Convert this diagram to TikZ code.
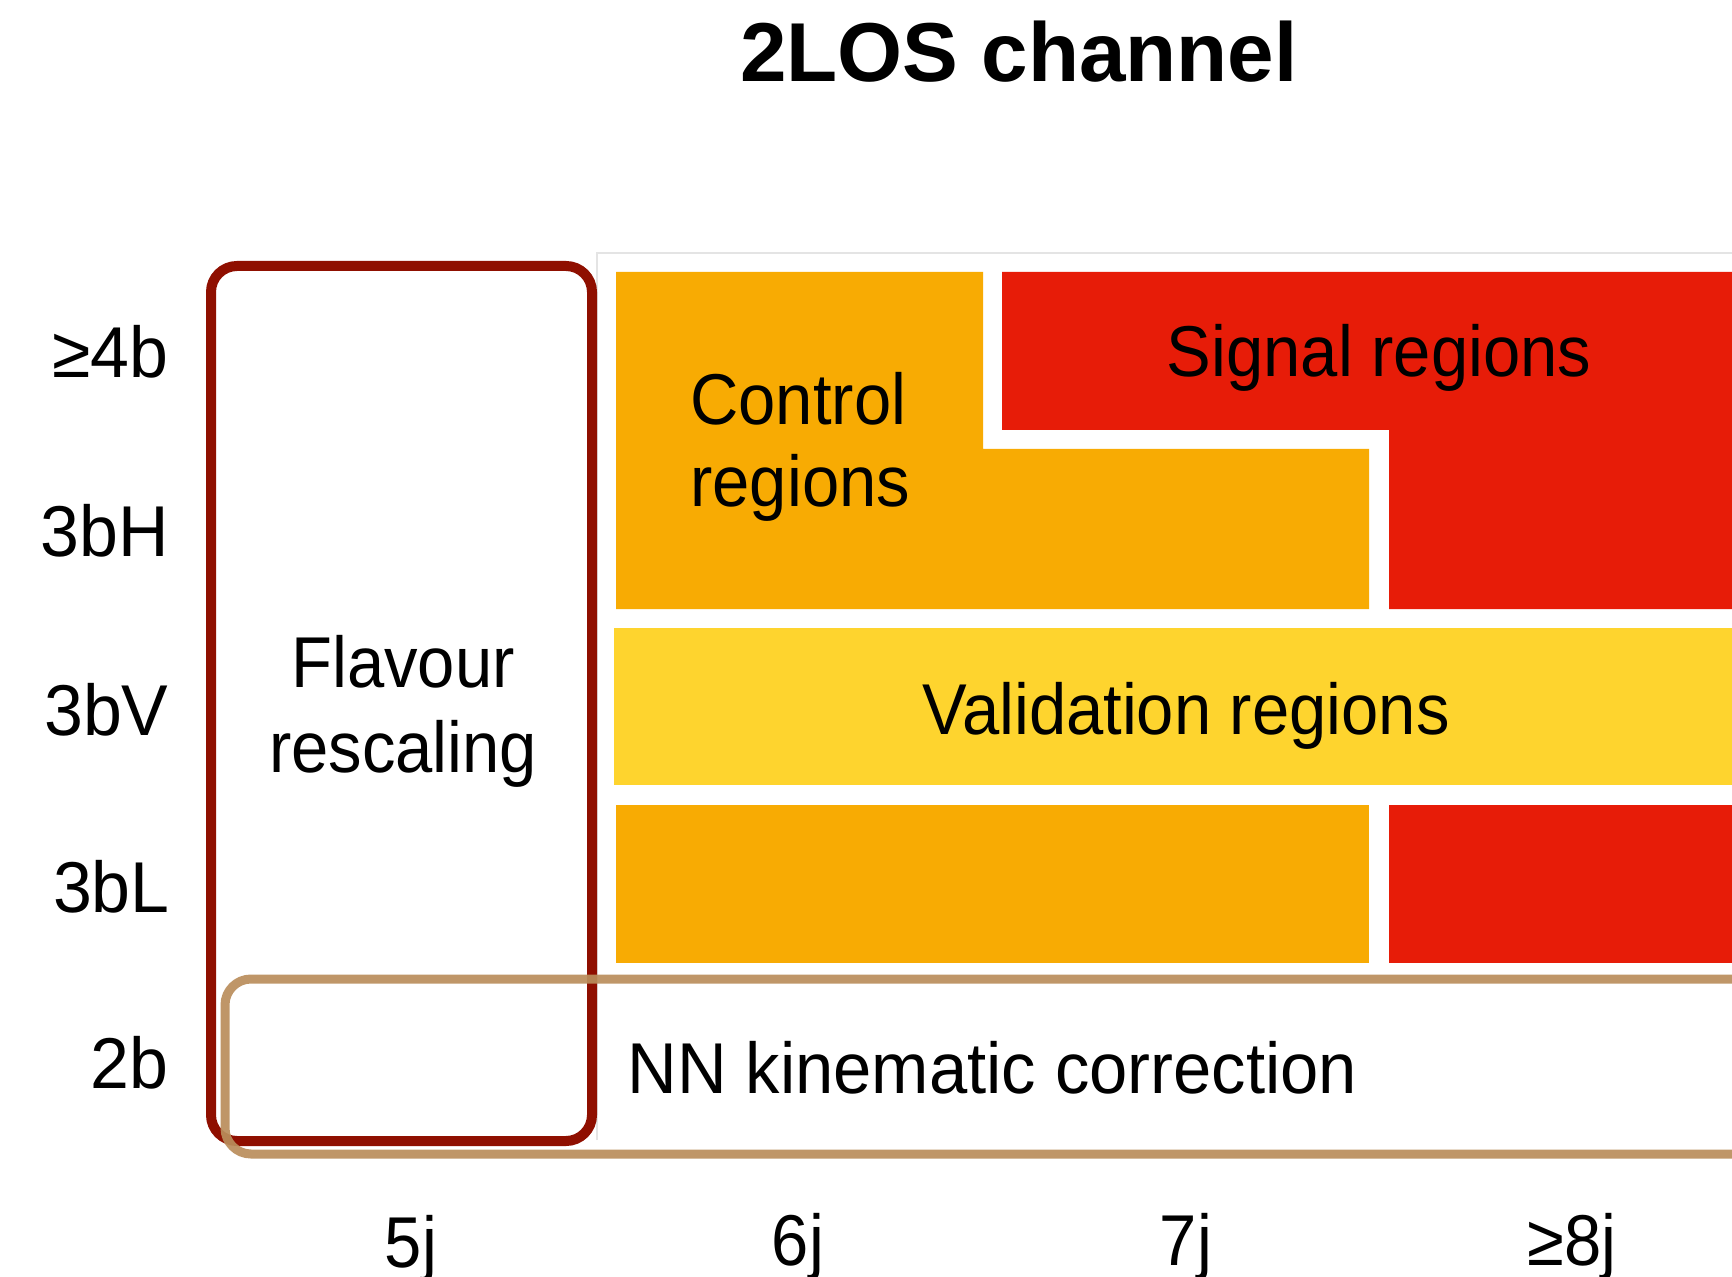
\documentclass[tikz,border=0pt]{standalone}
\usepackage{fontspec}
\setmainfont{Liberation Sans}[FakeStretch=0.93]
\newfontfamily\titlefont{Liberation Sans}
\newfontfamily\widefont{Liberation Sans}[FakeStretch=0.955]
\newfontfamily\axisfont{Liberation Sans}[FakeStretch=0.97]
\definecolor{ctrlorange}{HTML}{F8AB03}
\definecolor{sigred}{HTML}{E71C08}
\definecolor{valyellow}{HTML}{FED42E}
\definecolor{flavred}{HTML}{8F0F00}
\definecolor{nntan}{HTML}{BA8E5C}
\definecolor{framegrey}{HTML}{E4E4E4}
\begin{document}
\begin{tikzpicture}[x=0.5pt,y=-0.5pt,
  txt/.style={inner sep=0pt, font=\fontsize{36}{41}\selectfont},
  rowlbl/.style={inner sep=0pt, anchor=base east, font=\axisfont\fontsize{36}{41}\selectfont},
  collbl/.style={txt, anchor=base}]
\useasboundingbox (0,0) rectangle (1732,1277);
\fill[white] (0,0) rectangle (1732,1277);
\clip (0,0) rectangle (1732,1277);

% title
\node[inner sep=0pt, anchor=base, font=\titlefont\bfseries\fontsize{41.8}{48}\selectfont]
  (title) at (1019,82) {2LOS channel};

% thin frame of the region table
\draw[framegrey, line width=1pt] (597,1140) -- (597,253) -- (1760,253);

% control regions (upper block)
\fill[ctrlorange] (616,272) -- (983,272) -- (983,449) -- (1369,449)
  -- (1369,609) -- (616,609) -- cycle;
% signal regions (upper block)
\fill[sigred] (1002,272) -- (1760,272) -- (1760,609) -- (1389,609)
  -- (1389,430) -- (1002,430) -- cycle;
% validation regions
\fill[valyellow] (614,628) rectangle (1760,785);
% lower control / signal blocks
\fill[ctrlorange] (616,805) rectangle (1369,963);
\fill[sigred] (1389,805) rectangle (1760,963);

% flavour rescaling box
\draw[flavred, line width=5pt, rounded corners=13pt] (211,266) rectangle (592,1141);
% NN correction box
\draw[nntan, opacity=0.92, line width=4.5pt, rounded corners=13pt] (225,979) rectangle (1790,1154);

% region labels
\node[txt, anchor=base west] (ctrl) at (690,425)
  {\begin{tabular}[t]{@{}l@{}}Control\\regions\end{tabular}};
\node[txt, anchor=base] (sig) at (1379,377) {Signal regions};
\node[txt, anchor=base] (val) at (1186,734) {Validation regions};
\node[txt, anchor=base] (flav) at (403,687)
  {\fontsize{36}{42.5}\selectfont\begin{tabular}[t]{@{}c@{}}Flavour\\rescaling\end{tabular}};
\node[txt, anchor=base west, font=\widefont\fontsize{36}{41}\selectfont] (nn) at (627,1093)
  {NN kinematic correction};

% row labels (b-tag categories)
\node[rowlbl] (r4b) at (169,378) {≥4b};
\node[rowlbl] (r3bH) at (169,557) {3bH};
\node[rowlbl] (r3bV) at (169,735) {3bV};
\node[rowlbl] (r3bL) at (170,912) {3bL};
\node[rowlbl] (r2b) at (169,1088) {2b};

% column labels (jet multiplicity)
\node[collbl] (c5j) at (411,1267) {5j};
\node[collbl] (c6j) at (798,1265) {6j};
\node[collbl] (c7j) at (1186,1265) {7j};
\node[collbl] (c8j) at (1572,1265) {≥8j};
\end{tikzpicture}
\end{document}
